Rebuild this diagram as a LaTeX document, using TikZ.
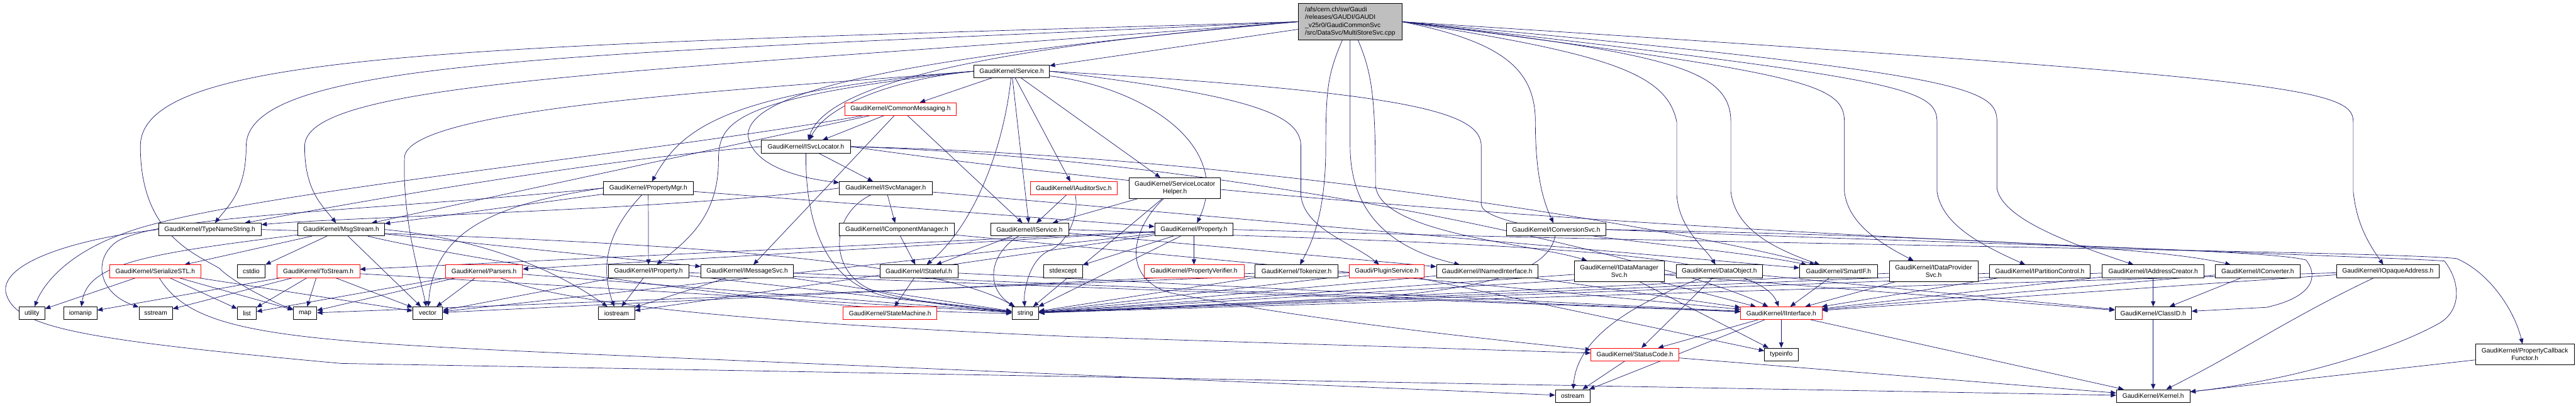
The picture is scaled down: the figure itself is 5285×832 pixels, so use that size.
\documentclass[tikz,border=0pt]{standalone}
\usepackage{fontspec}
\setmainfont{Liberation Sans}
\usetikzlibrary{arrows.meta}
\definecolor{edgecol}{HTML}{191970}
\definecolor{rootgray}{HTML}{BFBFBF}
\pgfdeclarelayer{bg}
\pgfsetlayers{bg,main}
\begin{document}
\begin{tikzpicture}[x=1pt,y=-1pt,
 box/.style={draw=black,line width=0.9pt,fill=white,minimum height=26pt,inner sep=0pt,align=center,font=\fontsize{13.2}{16}\selectfont},
 rbox/.style={box,draw=red},
 box2/.style={box,minimum height=42pt},
 rootbox/.style={box,fill=rootgray,minimum height=75pt,align=left},
 dep/.style={draw=edgecol,line width=0.9pt,-{Triangle[length=11pt,width=9pt]}}]
\begin{pgfonlayer}{bg}
\fill[white] (0,0) rectangle (5285,832);
\end{pgfonlayer}
\path[use as bounding box] (0,0) rectangle (5285,832);
% row 0
\node[rootbox,minimum width=212] (root) at (2770,44.5) {/afs/cern.ch/sw/Gaudi\\/releases/GAUDI/GAUDI\\\_v25r0/GaudiCommonSvc\\/src/DataSvc/MultiStoreSvc.cpp};
% row 1-3
\node[box,minimum width=155] (svc) at (2075.5,146) {GaudiKernel/Service.h};
\node[rbox,minimum width=229] (cmsg) at (1847.5,223.5) {GaudiKernel/CommonMessaging.h};
\node[box,minimum width=183] (isl) at (1653.5,300.5) {GaudiKernel/ISvcLocator.h};
% row 4
\node[box,minimum width=184] (pmgr) at (1330,385.5) {GaudiKernel/PropertyMgr.h};
\node[box,minimum width=190] (ismgr) at (1817,385.5) {GaudiKernel/ISvcManager.h};
\node[rbox,minimum width=178] (iaud) at (2203,385.5) {GaudiKernel/IAuditorSvc.h};
\node[box2,minimum width=187] (slh) at (2410.5,385.5) {GaudiKernel/ServiceLocator\\Helper.h};
% row 5
\node[box,minimum width=211] (tns) at (430.5,470.5) {GaudiKernel/TypeNameString.h};
\node[box,minimum width=178] (msg) at (700,470.5) {GaudiKernel/MsgStream.h};
\node[box,minimum width=236] (icm) at (1840,470.5) {GaudiKernel/IComponentManager.h};
\node[box,minimum width=160] (isvc) at (2112,470.5) {GaudiKernel/IService.h};
\node[box,minimum width=161] (prop) at (2449.5,470.5) {GaudiKernel/Property.h};
\node[box,minimum width=204] (iconv) at (3193,470.5) {GaudiKernel/IConversionSvc.h};
% row 6
\node[rbox,minimum width=187] (sstl) at (318.5,556) {GaudiKernel/SerializeSTL.h};
\node[box,minimum width=57] (cstdio) at (515.5,556) {cstdio};
\node[rbox,minimum width=170] (tos) at (653,556) {GaudiKernel/ToStream.h};
\node[rbox,minimum width=158] (pars) at (993,556) {GaudiKernel/Parsers.h};
\node[box,minimum width=165] (iprop) at (1330.5,556) {GaudiKernel/IProperty.h};
\node[box,minimum width=190] (imsg) at (1533,556) {GaudiKernel/IMessageSvc.h};
\node[box,minimum width=160] (istf) at (1885,556) {GaudiKernel/IStateful.h};
\node[box,minimum width=80] (stdexc) at (2181,556) {stdexcept};
\node[rbox,minimum width=205] (pver) at (2449.5,556) {GaudiKernel/PropertyVerifier.h};
\node[box,minimum width=170] (tok) at (2660,556) {GaudiKernel/Tokenizer.h};
\node[rbox,minimum width=154] (plug) at (2845,556) {Gaudi/PluginService.h};
\node[box,minimum width=208] (inamed) at (3051,556) {GaudiKernel/INamedInterface.h};
\node[box2,minimum width=184] (idm) at (3322,556) {GaudiKernel/IDataManager\\Svc.h};
\node[box,minimum width=177] (dobj) at (3527.5,556) {GaudiKernel/DataObject.h};
\node[box,minimum width=160] (smart) at (3772,556) {GaudiKernel/SmartIF.h};
\node[box2,minimum width=182] (idp) at (3967,556) {GaudiKernel/IDataProvider\\Svc.h};
\node[box,minimum width=206] (ipc) at (4185,556) {GaudiKernel/IPartitionControl.h};
\node[box,minimum width=209] (iac) at (4417.5,556) {GaudiKernel/IAddressCreator.h};
\node[box,minimum width=174] (icv) at (4632,556) {GaudiKernel/IConverter.h};
\node[box,minimum width=210] (ioa) at (4899,556) {GaudiKernel/IOpaqueAddress.h};
% row 7
\node[box,minimum width=53] (utility) at (65.5,642) {utility};
\node[box,minimum width=68] (iomanip) at (165,642) {iomanip};
\node[box,minimum width=69] (sstream) at (319.5,642) {sstream};
\node[box,minimum width=39] (list) at (506.5,642) {list};
\node[box,minimum width=48] (map) at (626,642) {map};
\node[box,minimum width=61] (vector) at (877.5,642) {vector};
\node[box,minimum width=74] (iostream) at (1265,642) {iostream};
\node[rbox,minimum width=192] (smach) at (1826,642) {GaudiKernel/StateMachine.h};
\node[box,minimum width=55] (string) at (2103.5,642) {string};
\node[rbox,minimum width=167] (iint) at (3654.5,642) {GaudiKernel/IInterface.h};
\node[box,minimum width=157] (clid) at (4417.5,642) {GaudiKernel/ClassID.h};
% row 8
\node[rbox,minimum width=180] (stc) at (3354,726.5) {GaudiKernel/StatusCode.h};
\node[box,minimum width=69] (typeinfo) at (3654.5,726.5) {typeinfo};
\node[box2,minimum width=202] (pcf) at (5180,726.5) {GaudiKernel/PropertyCallback\\Functor.h};
% row 9
\node[box,minimum width=71] (ostream) at (3226.5,811.5) {ostream};
\node[box,minimum width=151] (kern) at (4417.5,811.5) {GaudiKernel/Kernel.h};

\begin{pgfonlayer}{bg}
% root
\draw[dep] (root) -- (svc);
\draw[dep] (root.west) .. controls (1200,112) and (505,118) .. (505,300) .. controls (505,390) and (470,420) .. (tns);
\draw[dep] (root.west) .. controls (1300,150) and (625,165) .. (625,300) .. controls (625,390) and (660,420) .. (msg);
\draw[dep] (root.west) .. controls (1000,95) and (288,100) .. (288,300) .. controls (288,480) and (400,520) .. (450,550) .. controls (480,580) and (560,620) .. (map);
\draw[dep] (root.west) .. controls (2000,105) and (1525,170) .. (1535,280) .. controls (1545,340) and (1640,365) .. (ismgr);
\draw[dep] (root.west) .. controls (2100,92) and (1700,160) .. (isl);
\draw[dep] (root.east) .. controls (3080,85) and (3150,140) .. (3150,250) .. controls (3150,370) and (3170,420) .. (iconv);
\draw[dep] (root.east) .. controls (3420,110) and (3551,140) .. (3551,250) -- (3551,393) .. controls (3560,470) and (3640,510) .. (smart);
\draw[dep] (root.east) .. controls (3700,150) and (3784,170) .. (3784,250) -- (3784,393) .. controls (3792,460) and (3860,500) .. (idp);
\draw[dep] (root.east) .. controls (3900,160) and (3974,180) .. (3974,250) -- (3974,393) .. controls (3985,460) and (4060,500) .. (ipc);
\draw[dep] (root.east) .. controls (4040,150) and (4097,180) .. (4097,250) -- (4097,387) .. controls (4110,450) and (4250,500) .. (iac);
\draw[dep] (root.east) .. controls (4700,160) and (4828,180) .. (4828,250) -- (4828,393) .. controls (4835,460) and (4860,500) .. (ioa);
\draw[dep] (root.east) .. controls (3300,110) and (3420,150) .. (3440,250) -- (3440,400) .. controls (3445,470) and (3500,510) .. (dobj);
\draw[dep] (root) .. controls (2725,150) and (2720,180) .. (2720,300) .. controls (2720,440) and (2690,500) .. (tok);
\draw[dep] (root) -- (2770,300) .. controls (2770,470) and (2900,520) .. (inamed);
\draw[dep] (root) .. controls (2815,150) and (2822,200) .. (2822,380) .. controls (2830,480) and (3150,500) .. (idm);
% Service.h
\draw[dep] (svc) -- (cmsg);
\draw[dep] (svc.west) .. controls (1850,160) and (1700,210) .. (isl);
\draw[dep] (svc.west) .. controls (1493,188) and (1400,260) .. (pmgr);
\draw[dep] (svc.west) .. controls (1500,200) and (1474,250) .. (1474,330) .. controls (1474,450) and (1400,500) .. (iprop);
\draw[dep] (svc) -- (isvc);
\draw[dep] (svc) -- (iaud);
\draw[dep] (svc) -- (slh);
\draw[dep] (svc) .. controls (2350,180) and (2530,300) .. (prop);
\draw[dep] (svc.west) .. controls (1600,180) and (850,215) .. (830,320) .. controls (825,450) and (860,560) .. (vector);
\draw[dep] (svc) .. controls (2060,300) and (2000,460) .. (istf);
\draw[dep] (svc.east) .. controls (2550,195) and (2669,230) .. (2669,300) -- (2669,400) .. controls (2675,470) and (2780,500) .. (plug);
\draw[dep] (svc.east) .. controls (2900,190) and (3039,230) .. (3039,300) -- (3039,420) .. controls (3050,480) and (3500,500) .. (smart);
% CommonMessaging
\draw[dep] (cmsg) -- (isl);
\draw[dep] (cmsg) -- (imsg);
\draw[dep] (cmsg) -- (isvc);
\draw[dep] (cmsg) -- (msg);
\draw[dep] (cmsg) .. controls (1300,320) and (450,400) .. (250,480) .. controls (140,520) and (90,580) .. (utility);
% ISvcLocator
\draw[dep] (isl) -- (ismgr);
\draw[dep] (isl.west) .. controls (1200,330) and (700,420) .. (tns);
\draw[dep] (isl) .. controls (1652,470) and (1700,600) .. (1850,612) -- (string);
\draw[dep] (isl.east) .. controls (2600,320) and (3500,480) .. (smart);
\draw[dep] (isl.east) .. controls (2600,330) and (3450,540) .. (iint);
\draw[dep] (isl.east) .. controls (3000,480) and (4800,520) .. (5015,535) .. controls (5050,580) and (5050,640) .. (5000,665) .. controls (4900,720) and (4700,780) .. (kern);
% ISvcManager
\draw[dep] (ismgr) -- (icm);
\draw[dep] (ismgr.west) .. controls (1400,430) and (700,445) .. (tns);
\draw[dep] (ismgr) .. controls (1700,440) and (1700,560) .. (1790,595) .. controls (1900,625) and (2000,632) .. (string);
\draw[dep] (ismgr) -- (smart);
% IComponentManager, IStateful
\draw[dep] (icm) -- (istf);
\draw[dep] (icm) -- (iint);
\draw[dep] (istf) -- (smach);
\draw[dep] (istf) -- (iint);
% PropertyMgr
\draw[dep] (pmgr) -- (iprop);
\draw[dep] (pmgr) -- (prop);
\draw[dep] (pmgr) -- (msg);
\draw[dep] (pmgr.west) .. controls (1000,420) and (890,480) .. (vector);
\draw[dep] (pmgr) .. controls (1260,460) and (1225,530) .. (iostream);
\draw[dep] (pmgr.west) .. controls (800,430) and (330,440) .. (240,495) .. controls (190,530) and (200,600) .. (sstream);
% IProperty, IMessageSvc
\draw[dep] (iprop) -- (iint);
\draw[dep] (iprop) -- (vector);
\draw[dep] (iprop) -- (string);
\draw[dep] (iprop) -- (iostream);
\draw[dep] (imsg) -- (iint);
\draw[dep] (imsg) -- (string);
\draw[dep] (imsg) -- (iostream);
% MsgStream
\draw[dep] (msg) -- (imsg);
\draw[dep] (msg) -- (sstl);
\draw[dep] (msg) -- (cstdio);
\draw[dep] (msg) .. controls (300,520) and (180,540) .. (iomanip);
\draw[dep] (msg) -- (vector);
\draw[dep] (msg) .. controls (900,520) and (1600,640) .. (string);
\draw[dep] (msg.east) .. controls (1000,490) and (1150,560) .. (iostream);
% TypeNameString
\draw[dep] (tns.east) .. controls (1200,490) and (1900,520) .. (string);
\draw[dep] (tns.west) .. controls (150,490) and (0,540) .. (12,600) .. controls (30,670) and (150,695) .. (700,745) -- (kern);
% SerializeSTL
\draw[dep] (sstl) -- (utility);
\draw[dep] (sstl) -- (list);
\draw[dep] (sstl) -- (map);
\draw[dep] (sstl) -- (vector);
\draw[dep] (sstl) .. controls (400,690) and (600,700) .. (1300,730) -- (ostream);
% ToStream
\draw[dep] (tos) -- (iomanip);
\draw[dep] (tos) -- (sstream);
\draw[dep] (tos) -- (list);
\draw[dep] (tos) -- (map);
\draw[dep] (tos) -- (vector);
\draw[dep] (tos) -- (string);
% Parsers
\draw[dep] (pars) -- (vector);
\draw[dep] (pars) -- (list);
\draw[dep] (pars) -- (map);
\draw[dep] (pars) -- (string);
\draw[dep] (pars) .. controls (1150,620) and (1500,660) .. (2200,690) -- (stc);
% Property
\draw[dep] (prop) -- (pver);
\draw[dep] (prop) -- (pars);
\draw[dep] (prop) -- (tos);
\draw[dep] (prop) -- (stdexc);
\draw[dep] (prop) -- (string);
\draw[dep] (prop) -- (iostream);
\draw[dep] (prop) -- (vector);
\draw[dep] (prop.east) .. controls (3500,500) and (4900,515) .. (5040,530) .. controls (5110,560) and (5160,640) .. (pcf);
% IService, IAuditorSvc, ServiceLocatorHelper
\draw[dep] (isvc) -- (inamed);
\draw[dep] (isvc) -- (istf);
\draw[dep] (isvc) .. controls (2030,520) and (2020,590) .. (string);
\draw[dep] (isvc.east) .. controls (3000,500) and (3600,505) .. (iint);
\draw[dep] (iaud) -- (isvc);
\draw[dep] (iaud) .. controls (2215,440) and (2190,500) .. (2150,515) .. controls (2110,535) and (2100,600) .. (string);
\draw[dep] (slh) -- (isvc);
\draw[dep] (slh) -- (string);
\draw[dep] (slh) .. controls (2320,470) and (2300,570) .. (2400,600) .. controls (2700,660) and (3100,700) .. (stc);
% Tokenizer, PluginService, INamedInterface
\draw[dep] (tok) -- (string);
\draw[dep] (tok) -- (vector);
\draw[dep] (plug) -- (string);
\draw[dep] (plug) -- (typeinfo);
\draw[dep] (plug) -- (map);
\draw[dep] (inamed) -- (iint);
\draw[dep] (inamed) -- (string);
% IConversionSvc
\draw[dep] (iconv.east) .. controls (3800,480) and (4400,500) .. (icv);
\draw[dep] (iconv) .. controls (3180,540) and (3100,590) .. (2800,610) -- (string);
\draw[dep] (iconv.east) .. controls (4000,500) and (4650,510) .. (4731,533) .. controls (4760,570) and (4740,610) .. (4650,630) -- (clid);
% data services
\draw[dep] (idm) -- (iint);
\draw[dep] (idm) -- (clid);
\draw[dep] (idm) -- (string);
\draw[dep] (idm) -- (typeinfo);
\draw[dep] (dobj) -- (clid);
\draw[dep] (dobj) -- (stc);
\draw[dep] (dobj) -- (string);
\draw[dep] (dobj) .. controls (3330,630) and (3235,700) .. (ostream);
\draw[dep] (smart) -- (iint);
\draw[dep] (idp) -- (iint);
\draw[dep] (idp) -- (string);
\draw[dep] (ipc) -- (iint);
\draw[dep] (ipc) -- (string);
\draw[dep] (iac) -- (clid);
\draw[dep] (iac) -- (iint);
\draw[dep] (iac) -- (string);
\draw[dep] (icv) -- (clid);
\draw[dep] (icv) -- (iint);
\draw[dep] (ioa) -- (iint);
\draw[dep] (ioa) -- (string);
\draw[dep] (ioa) .. controls (4700,650) and (4600,720) .. (kern);
% IInterface, StatusCode, ClassID, PropertyCallbackFunctor
\draw[dep] (iint) -- (stc);
\draw[dep] (iint) -- (typeinfo);
\draw[dep] (iint) -- (ostream);
\draw[dep] (iint) -- (kern);
\draw[dep] (stc) -- (ostream);
\draw[dep] (stc) -- (kern);
\draw[dep] (clid) -- (kern);
\draw[dep] (pcf) -- (kern);
\end{pgfonlayer}
\end{tikzpicture}
\end{document}
